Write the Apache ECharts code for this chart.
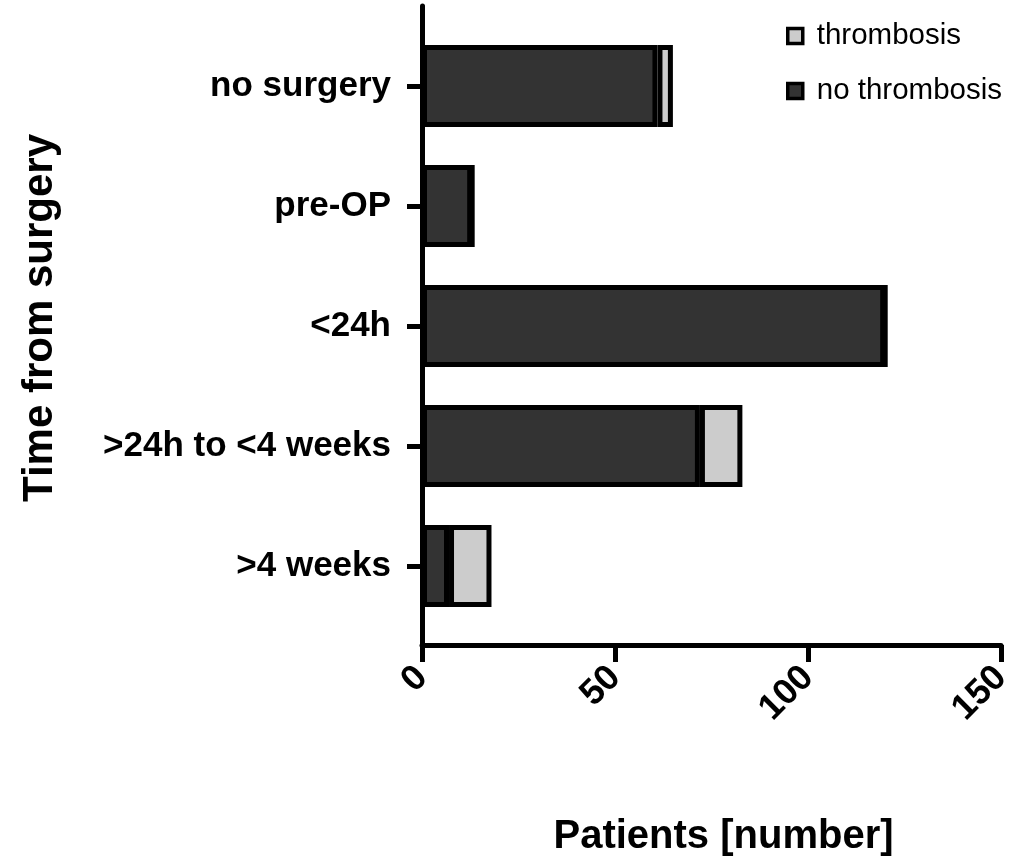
<!DOCTYPE html>
<html>
<head>
<meta charset="utf-8">
<script src="https://cdn.jsdelivr.net/npm/echarts@6/dist/echarts.min.js"></script>
<style>
html,body{margin:0;padding:0;background:#fff;}
#chart{width:1031px;height:864px;}
</style>
</head>
<body>
<div id="chart"></div>
<script>
const categories = ['no surgery', 'pre-OP', '<24h', '>24h to <4 weeks', '>4 weeks'];
const noThrombosis = [61, 13, 120, 72, 7];
const thrombosis = [4, 0, 0, 11, 11];
const xTicks = [0, 50, 100, 150];

const FONT = '"Liberation Sans", Arial, Helvetica, sans-serif';
const chart = echarts.init(document.getElementById('chart'), null, {renderer: 'canvas'});

const option = {
  backgroundColor: '#ffffff',
  animation: false,
  textStyle: {fontFamily: FONT},
  legend: {
    orient: 'vertical',
    left: 781,
    top: 16,
    itemGap: 25,
    itemWidth: 15,
    itemHeight: 15,
    icon: 'rect',
    data: ['thrombosis', 'no thrombosis'],
    itemStyle: {borderColor: '#000', borderWidth: 3.5},
    textStyle: {fontFamily: FONT, fontSize: 29.5, color: '#000', padding: [0, 0, 0, 9]}
  },
  grid: [
    {left: 422, right: 30, top: 26, height: 600, containLabel: false, outerBoundsMode: 'none'},
    {left: 422, right: 30, top: 6, height: 639, containLabel: false, outerBoundsMode: 'none'}
  ],
  xAxis: [
    {
      type: 'value',
      gridIndex: 0,
      min: xTicks[0],
      max: xTicks[xTicks.length - 1],
      interval: 50,
      offset: 19,
      axisLine: {show: true, lineStyle: {color: '#000', width: 5}},
      axisTick: {show: true, length: 17, lineStyle: {color: '#000', width: 5}},
      splitLine: {show: false},
      axisLabel: {
        rotate: 45,
        margin: 27,
        fontFamily: FONT,
        fontWeight: 'bold',
        fontSize: 36,
        color: '#000'
      },
      name: 'Patients [number]',
      nameLocation: 'middle',
      nameGap: 172,
      nameTextStyle: {fontFamily: FONT, fontWeight: 'bold', fontSize: 40, color: '#000', padding: [0, 0, 0, 24]}
    },
    {
      type: 'value',
      gridIndex: 1,
      show: false
    }
  ],
  yAxis: [
    {
      type: 'category',
      gridIndex: 0,
      inverse: true,
      data: categories,
      axisLine: {show: false},
      axisTick: {show: true, alignWithLabel: true, length: 15, lineStyle: {color: '#000', width: 5}},
      axisLabel: {
        margin: 31,
        fontFamily: FONT,
        fontWeight: 'bold',
        fontSize: 35,
        color: '#000'
      },
      splitLine: {show: false},
      name: 'Time from surgery',
      nameLocation: 'middle',
      nameGap: 361,
      nameTextStyle: {fontFamily: FONT, fontWeight: 'bold', fontSize: 42, color: '#000', padding: [0, 0, 0, 16]}
    },
    {
      type: 'value',
      gridIndex: 1,
      min: 0,
      max: 1,
      axisLine: {show: true, onZero: false, lineStyle: {color: '#000', width: 5}},
      axisTick: {show: false},
      axisLabel: {show: false},
      splitLine: {show: false}
    }
  ],
  series: [
    {
      name: 'no thrombosis',
      type: 'bar',
      stack: 'total',
      xAxisIndex: 0,
      yAxisIndex: 0,
      barWidth: 82,
      data: noThrombosis,
      itemStyle: {color: '#333333', borderColor: '#000', borderWidth: 5}
    },
    {
      name: 'thrombosis',
      type: 'bar',
      stack: 'total',
      xAxisIndex: 0,
      yAxisIndex: 0,
      barWidth: 82,
      data: thrombosis,
      itemStyle: {color: '#cccccc', borderColor: '#000', borderWidth: 5}
    }
  ]
};
chart.setOption(option);
</script>
</body>
</html>
